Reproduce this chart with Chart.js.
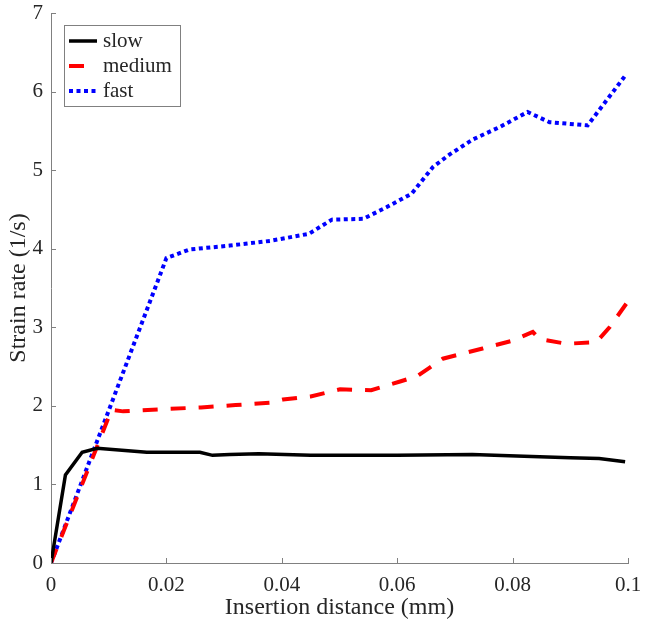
<!DOCTYPE html>
<html>
<head>
<meta charset="utf-8">
<script src="https://cdn.jsdelivr.net/npm/chart.js@4/dist/chart.umd.min.js"></script>
<style>
  html, body { margin: 0; padding: 0; background: #fff; }
  canvas { display: block; }
</style>
</head>
<body>
<canvas id="strainChart" width="645" height="630"></canvas>
<script>
// ======================= DATA =======================

// slow insertion
const slowX = [0, 0.0025, 0.0054, 0.008, 0.0166, 0.0258, 0.028, 0.031, 0.036, 0.045, 0.06, 0.073, 0.082, 0.09, 0.095, 0.0995];
const slowY = [0, 1.12, 1.41, 1.46, 1.41, 1.41, 1.37, 1.38, 1.39, 1.37, 1.37, 1.38, 1.36, 1.34, 1.33, 1.29];

// medium insertion
const mediumX = [0, 0.0105, 0.0125, 0.02, 0.026, 0.032, 0.038, 0.0402, 0.045, 0.0501, 0.0555, 0.0605, 0.0635, 0.0657, 0.0679, 0.0748, 0.080, 0.0835, 0.0847, 0.0893, 0.0945, 0.0968, 0.0997];
const mediumY = [0, 1.95, 1.93, 1.96, 1.98, 2.01, 2.04, 2.08, 2.12, 2.21, 2.2, 2.31, 2.38, 2.49, 2.6, 2.73, 2.83, 2.94, 2.85, 2.79, 2.81, 3.0, 3.3];

// fast insertion
const fastX = [0, 0.02, 0.024, 0.031, 0.038, 0.0447, 0.0487, 0.0541, 0.0582, 0.0625, 0.0662, 0.0691, 0.0731, 0.0778, 0.0826, 0.0864, 0.093, 0.0995];
const fastY = [0, 3.88, 3.99, 4.04, 4.1, 4.19, 4.37, 4.38, 4.53, 4.7, 5.04, 5.2, 5.39, 5.55, 5.74, 5.61, 5.57, 6.2];

// tick labels
const xTicks = [0, 0.02, 0.04, 0.06, 0.08, 0.1];
const yTicks = [0, 1, 2, 3, 4, 5, 6, 7];

const toPoints = (xs, ys) => xs.map((x, i) => ({ x: x, y: ys[i] }));

const FONT = "'Liberation Serif', 'Times New Roman', serif";
const TEXT = '#262626';
const AXIS = '#808080';

// ======================= PLUGINS =======================

// inward tick marks, MATLAB style
const innerTicks = {
    id: 'innerTicks',
    afterDraw(chart) {
        const { ctx, chartArea, scales } = chart;
        ctx.save();
        ctx.strokeStyle = AXIS;
        ctx.lineWidth = 1;
        ctx.beginPath();
        xTicks.forEach(v => {
            const px = Math.round(scales.x.getPixelForValue(v)) + 0.5;
            ctx.moveTo(px, chartArea.bottom);
            ctx.lineTo(px, chartArea.bottom - 5);
        });
        yTicks.forEach(v => {
            const py = Math.round(scales.y.getPixelForValue(v)) + 0.5;
            ctx.moveTo(chartArea.left, py);
            ctx.lineTo(chartArea.left + 5, py);
        });
        ctx.stroke();
        ctx.restore();
    }
};

// boxed legend in the upper left of the plot
const boxLegend = {
    id: 'boxLegend',
    afterDraw(chart) {
        const { ctx, chartArea } = chart;
        const left = chartArea.left + 13;
        const top = chartArea.top + 12;
        ctx.save();
        ctx.fillStyle = '#fff';
        ctx.fillRect(left, top, 116, 81);
        ctx.strokeStyle = AXIS;
        ctx.lineWidth = 1;
        ctx.strokeRect(left + 0.5, top + 0.5, 116, 81);
        chart.data.datasets.forEach((ds, i) => {
            const y = top + 16 + i * 25;
            ctx.beginPath();
            ctx.strokeStyle = ds.borderColor;
            ctx.lineWidth = ds.borderWidth;
            ctx.lineCap = 'butt';
            ctx.setLineDash(ds.borderDash || []);
            ctx.moveTo(left + 5, y);
            ctx.lineTo(left + 33, y);
            ctx.stroke();
            ctx.setLineDash([]);
            ctx.fillStyle = TEXT;
            ctx.font = '21px ' + FONT;
            ctx.textBaseline = 'middle';
            ctx.fillText(ds.label, left + 39, y);
        });
        ctx.restore();
    }
};

// ======================= CHART =======================

const ctx = document.getElementById('strainChart').getContext('2d');

new Chart(ctx, {
    type: 'line',
    data: {
        datasets: [
            {
                label: 'slow',
                data: toPoints(slowX, slowY),
                borderColor: '#000000',
                borderWidth: 3.5
            },
            {
                label: 'medium',
                data: toPoints(mediumX, mediumY),
                borderColor: '#ff0000',
                borderWidth: 4,
                borderDash: [15, 13]
            },
            {
                label: 'fast',
                data: toPoints(fastX, fastY),
                borderColor: '#0000ff',
                borderWidth: 4,
                borderDash: [4, 3.5]
            }
        ]
    },
    options: {
        responsive: false,
        animation: false,
        layout: {
            padding: { top: 13, right: 17, left: 0, bottom: 0 }
        },
        elements: {
            point: { radius: 0 },
            line: { tension: 0, borderCapStyle: 'butt', borderJoinStyle: 'miter' }
        },
        plugins: {
            legend: { display: false },
            tooltip: { enabled: false }
        },
        scales: {
            x: {
                type: 'linear',
                min: 0,
                max: 0.1,
                afterBuildTicks: scale => { scale.ticks = xTicks.map(v => ({ value: v })); },
                afterFit: scale => {
                    scale.height = 67;
                    scale.paddingLeft = 0;
                    scale.paddingRight = 0;
                },
                grid: { display: false, drawTicks: false },
                border: { display: true, color: AXIS, width: 1 },
                ticks: {
                    padding: 10,
                    color: TEXT,
                    font: { family: FONT, size: 21 },
                    maxRotation: 0,
                    callback: v => String(v)
                },
                title: {
                    display: true,
                    text: 'Insertion distance (mm)',
                    color: TEXT,
                    font: { family: FONT, size: 24 },
                    padding: { top: 0, bottom: 8 }
                }
            },
            y: {
                type: 'linear',
                min: 0,
                max: 7,
                afterBuildTicks: scale => { scale.ticks = yTicks.map(v => ({ value: v })); },
                afterFit: scale => {
                    scale.width = 51;
                    scale.paddingTop = 0;
                    scale.paddingBottom = 0;
                },
                grid: { display: false, drawTicks: false },
                border: { display: true, color: AXIS, width: 1 },
                ticks: {
                    padding: 8,
                    color: TEXT,
                    font: { family: FONT, size: 21 },
                    callback: v => String(v)
                },
                title: {
                    display: true,
                    text: 'Strain rate (1/s)',
                    color: TEXT,
                    font: { family: FONT, size: 24 },
                    padding: { top: 4, bottom: 0 }
                }
            }
        }
    },
    plugins: [innerTicks, boxLegend]
});
</script>
</body>
</html>
